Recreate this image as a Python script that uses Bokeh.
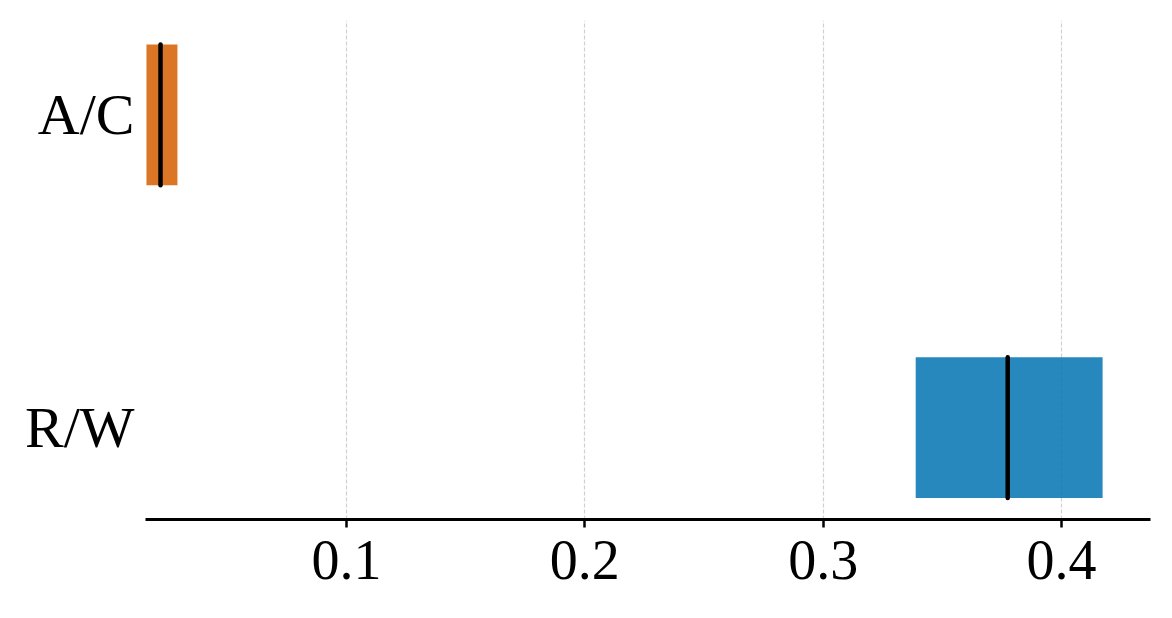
from bokeh.plotting import figure
from bokeh.models import Range1d, FixedTicker, ColumnDataSource
from bokeh.embed import file_html
from bokeh.resources import INLINE

categories = ["R/W", "A/C"]
q1 = [0.3388, 0.0161]
median = [0.3774, 0.0220]
q3 = [0.4172, 0.0291]
colors = ["#0173b2", "#d55e00"]
x_ticks = [0.1, 0.2, 0.3, 0.4]

pos = list(range(len(categories)))
half = 0.225
src = ColumnDataSource(dict(y=pos, lo=[v - half for v in pos], hi=[v + half for v in pos],
                            q1=q1, med=median, q3=q3, color=colors))

p = figure(width=1156, height=602, output_backend="svg", toolbar_location=None,
           y_range=Range1d(-0.294, 1.302),
           x_range=Range1d(0.0157, 0.4373),
           min_border_left=145, min_border_right=6, min_border_top=20, min_border_bottom=83)
p.outline_line_color = None
p.background_fill_color = "white"
p.border_fill_color = "white"

p.hbar(y="y", left="q1", right="q3", height=2 * half, fill_color="color", fill_alpha=0.85,
       line_color=None, source=src)
p.segment(x0="med", x1="med", y0="lo", y1="hi", line_color="black", line_width=4.5,
          line_cap="round", source=src)

p.ygrid.grid_line_color = None
p.xgrid.grid_line_color = "#d0d0d0"
p.xgrid.grid_line_dash = "4 2"
p.xgrid.grid_line_width = 1.2
p.xaxis.ticker = FixedTicker(ticks=x_ticks)
p.xaxis.minor_tick_line_color = None
p.xaxis.major_tick_in = 0
p.xaxis.major_tick_out = 8
p.xaxis.major_tick_line_width = 2.5
p.xaxis.axis_line_width = 3
p.xaxis.axis_line_color = "black"
p.xaxis.major_tick_line_color = "black"
p.xaxis.major_label_standoff = 13

p.yaxis.ticker = FixedTicker(ticks=pos)
p.yaxis.major_label_overrides = {i: c for i, c in zip(pos, categories)}
p.yaxis.axis_line_color = None
p.yaxis.major_tick_line_color = None
p.yaxis.minor_tick_line_color = None
p.yaxis.major_label_standoff = 5

for ax in (p.xaxis, p.yaxis):
    ax.major_label_text_font = "Liberation Serif"
    ax.major_label_text_color = "black"
p.xaxis.major_label_text_font_size = "56px"
p.yaxis.major_label_text_font_size = "58px"

open("out.html", "w").write(file_html(p, INLINE))
